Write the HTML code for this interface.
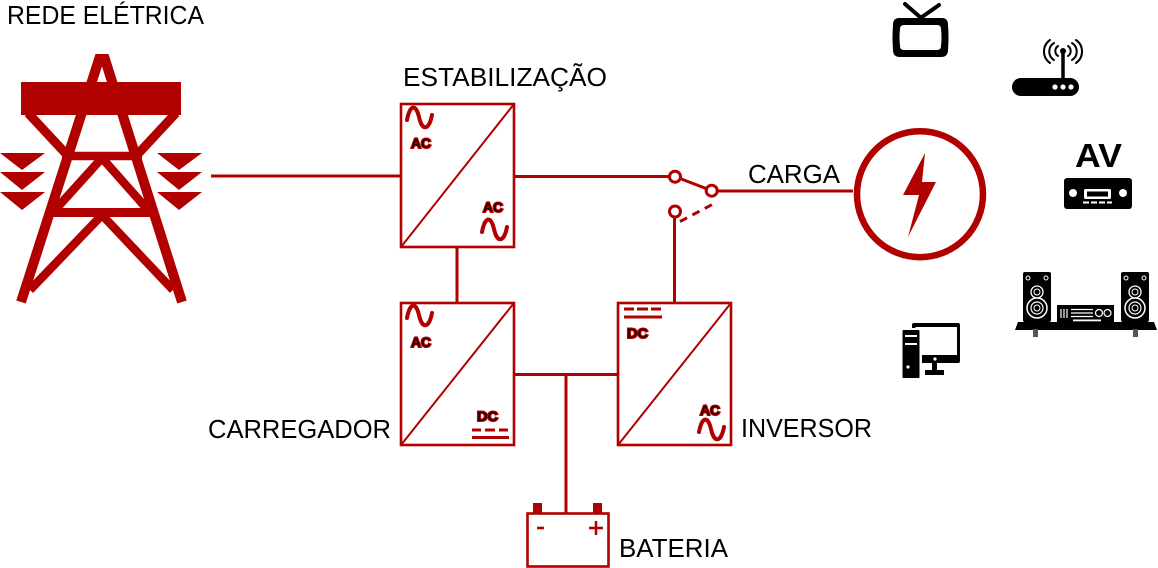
<!DOCTYPE html>
<html>
<head>
<meta charset="utf-8">
<style>
  html,body{margin:0;padding:0;background:#fff;}
  svg{display:block;}
  .lbl{font-family:"Liberation Sans",sans-serif;font-size:26px;fill:#000;}
  .sm{font-family:"Liberation Sans",sans-serif;font-size:14px;font-weight:bold;fill:#2a0000;stroke:#c00000;stroke-width:2;paint-order:stroke;}
</style>
</head>
<body>
<svg width="1158" height="568" viewBox="0 0 1158 568" xmlns="http://www.w3.org/2000/svg">
  <rect x="0" y="0" width="1158" height="568" fill="#fff"/>

  <!-- Labels -->
  <text class="lbl" x="7" y="24" font-size="25" textLength="197" lengthAdjust="spacingAndGlyphs">REDE ELÉTRICA</text>
  <text class="lbl" x="403" y="86" textLength="204" lengthAdjust="spacingAndGlyphs">ESTABILIZAÇÃO</text>
  <text class="lbl" x="748" y="183" textLength="92" lengthAdjust="spacingAndGlyphs">CARGA</text>
  <text class="lbl" x="208" y="438" textLength="183" lengthAdjust="spacingAndGlyphs">CARREGADOR</text>
  <text class="lbl" x="741" y="437" textLength="131" lengthAdjust="spacingAndGlyphs">INVERSOR</text>
  <text class="lbl" x="619" y="557" textLength="109" lengthAdjust="spacingAndGlyphs">BATERIA</text>

  <!-- Tower -->
  <g fill="#b00000" stroke="none">
    <rect x="21" y="82" width="160" height="33"/>
    <polygon points="0,153 45,153 22,170"/>
    <polygon points="0,172 45,172 22,190"/>
    <polygon points="0,192 45,192 22,210"/>
    <polygon points="157,153 202,153 179,170"/>
    <polygon points="157,172 202,172 179,190"/>
    <polygon points="157,192 202,192 179,210"/>
  </g>
  <g stroke="#b00000" stroke-width="10" fill="none" stroke-linecap="butt">
    <line x1="102" y1="50" x2="21" y2="302"/>
    <line x1="102" y1="50" x2="182" y2="302"/>
    <line x1="28" y1="113" x2="68" y2="156" stroke-width="9"/>
    <line x1="176" y1="113" x2="136" y2="156" stroke-width="9"/>
    <line x1="62" y1="156" x2="142" y2="156" stroke-width="8.5"/>
    <line x1="102" y1="158" x2="55" y2="210" stroke-width="8.5"/>
    <line x1="102" y1="158" x2="148" y2="210" stroke-width="8.5"/>
    <line x1="53" y1="212.5" x2="151" y2="212.5" stroke-width="9"/>
    <line x1="102" y1="215" x2="30" y2="290" stroke-width="8.5"/>
    <line x1="102" y1="215" x2="173" y2="290" stroke-width="8.5"/>
  </g>
  <rect x="0" y="0" width="1" height="1" fill="#fff"/>
  <polygon points="97,54 108,54 104,50 100,50" fill="#b00000"/>
  <rect x="0" y="40" width="200" height="14" fill="#fff"/>

  <!-- Connectors -->
  <g stroke="#b00000" stroke-width="3" fill="none">
    <line x1="211" y1="176" x2="401" y2="176"/>
    <line x1="514" y1="176.5" x2="669" y2="176.5"/>
    <line x1="457" y1="247" x2="457" y2="303"/>
    <line x1="514" y1="374.5" x2="618" y2="374.5"/>
    <line x1="566" y1="374.5" x2="566" y2="513"/>
    <line x1="674.5" y1="218" x2="674.5" y2="303"/>
    <line x1="718" y1="191" x2="853" y2="191"/>
    <!-- switch -->
    <circle cx="675" cy="176.7" r="5.5"/>
    <circle cx="711.7" cy="190.7" r="5.5"/>
    <line x1="680" y1="178.5" x2="706.5" y2="188.7"/>
    <circle cx="675" cy="211.5" r="5.5"/>
    <line x1="680" y1="221.5" x2="717" y2="202" stroke-dasharray="8,6"/>
  </g>

  <!-- Boxes -->
  <g stroke="#b00000" fill="none">
    <rect x="401" y="104" width="113" height="143" stroke-width="2.6"/>
    <line x1="401" y1="247" x2="514" y2="104" stroke-width="2"/>
    <rect x="401" y="303" width="113" height="142" stroke-width="2.6"/>
    <line x1="401" y1="445" x2="514" y2="303" stroke-width="2"/>
    <rect x="618" y="303" width="113" height="142" stroke-width="2.6"/>
    <line x1="618" y1="445" x2="731" y2="303" stroke-width="2"/>
  </g>

  <!-- Sine waves -->
  <g stroke="#b00000" stroke-width="4" fill="none" stroke-linecap="round">
    <path d="M407,120 C410,104 416,104 419,117 C422,131 429,131 432,115"/>
    <path d="M482,232 C485,216 491,216 494,229 C497,243 504,243 507,227"/>
    <path d="M407,318 C410,302 416,302 419,315 C422,329 429,329 432,313"/>
    <path d="M699,432 C702,416 708,416 711,429 C714,443 721,443 724,427"/>
  </g>

  <!-- DC lines -->
  <g stroke="#b00000" stroke-width="3" fill="none">
    <line x1="472" y1="430" x2="481" y2="430"/>
    <line x1="485" y1="430" x2="495" y2="430"/>
    <line x1="499" y1="430" x2="508" y2="430"/>
    <line x1="472" y1="437.5" x2="509" y2="437.5"/>
    <line x1="624" y1="309" x2="634" y2="309"/>
    <line x1="637" y1="309" x2="648" y2="309"/>
    <line x1="651" y1="309" x2="661" y2="309"/>
    <line x1="624" y1="317" x2="662" y2="317"/>
  </g>

  <!-- AC / DC small labels -->
  <text class="sm" x="411" y="148" textLength="20" lengthAdjust="spacingAndGlyphs">AC</text>
  <text class="sm" x="483" y="212" textLength="20" lengthAdjust="spacingAndGlyphs">AC</text>
  <text class="sm" x="411" y="347" textLength="20" lengthAdjust="spacingAndGlyphs">AC</text>
  <text class="sm" x="477" y="421" textLength="21" lengthAdjust="spacingAndGlyphs">DC</text>
  <text class="sm" x="627" y="338" textLength="21" lengthAdjust="spacingAndGlyphs">DC</text>
  <text class="sm" x="700" y="415" textLength="20" lengthAdjust="spacingAndGlyphs">AC</text>

  <!-- Battery -->
  <g fill="#b00000">
    <rect x="533" y="503" width="9" height="10"/>
    <rect x="593" y="503" width="9" height="10"/>
  </g>
  <g stroke="#b00000" fill="none">
    <rect x="527.5" y="513.5" width="81" height="53" stroke-width="2.6"/>
    <line x1="537" y1="528" x2="544" y2="528" stroke-width="2.6"/>
    <line x1="589" y1="528" x2="603" y2="528" stroke-width="2.6"/>
    <line x1="596" y1="521" x2="596" y2="535" stroke-width="2.6"/>
  </g>

  <!-- Load circle -->
  <circle cx="920" cy="194.2" r="63" stroke="#b00000" stroke-width="6.5" fill="none"/>
  <polygon points="925,153 903,195 919,195 908,237 936,182 922,182" fill="#b00000"/>

  <!-- TV icon -->
  <g stroke="#000" stroke-width="4" stroke-linecap="round">
    <line x1="905" y1="4" x2="920" y2="17"/>
    <line x1="939" y1="5" x2="922" y2="17"/>
  </g>
  <path d="M899,18 L942,18 Q948,18 948,25 Q949,37 948,50 Q948,57 941,57 L900,57 Q893,57 893,50 Q892,37 893,25 Q893,18 899,18 Z" fill="#000"/>
  <path d="M904,25 L937,25 Q941,25 941,29 Q942,37 941,46 Q941,50 937,50 L904,50 Q900,50 900,46 Q899,37 900,29 Q900,25 904,25 Z" fill="#fff"/>

  <!-- Router icon -->
  <rect x="1012" y="78" width="67" height="18" rx="9" fill="#000"/>
  <g fill="#fff">
    <circle cx="1055" cy="87" r="2.6"/>
    <circle cx="1063" cy="87" r="2.6"/>
    <circle cx="1071" cy="87" r="2.6"/>
  </g>
  <line x1="1063" y1="52" x2="1063" y2="79" stroke="#000" stroke-width="3.5"/>
  <circle cx="1063" cy="51" r="3" fill="#000"/>
  <g stroke="#000" stroke-width="2" fill="none" stroke-linecap="round">
    <path d="M1058,46 A6,6 0 0 0 1058,56"/>
    <path d="M1054,43 A10,10 0 0 0 1054,60"/>
    <path d="M1050,40 A14,14 0 0 0 1050,63"/>
    <path d="M1068,46 A6,6 0 0 1 1068,56"/>
    <path d="M1072,43 A10,10 0 0 1 1072,60"/>
    <path d="M1076,40 A14,14 0 0 1 1076,63"/>
  </g>

  <!-- AV icon -->
  <text x="1075" y="167" font-family="Liberation Sans, sans-serif" font-weight="bold" font-size="33" fill="#000" textLength="47" lengthAdjust="spacingAndGlyphs">AV</text>
  <rect x="1064" y="178" width="68" height="31" rx="3" fill="#000"/>
  <circle cx="1073" cy="193" r="4" fill="#fff"/>
  <circle cx="1123" cy="193" r="4" fill="#fff"/>
  <rect x="1084" y="189" width="27" height="10" rx="1.5" fill="#fff"/>
  <rect x="1087" y="191.5" width="21" height="5" fill="#000"/>
  <g fill="#fff">
    <rect x="1083" y="201.5" width="6" height="2"/>
    <rect x="1091" y="201.5" width="6" height="2"/>
    <rect x="1099" y="201.5" width="6" height="2"/>
    <rect x="1107" y="201.5" width="5" height="2"/>
  </g>

  <!-- Hi-fi stereo icon -->
  <polygon points="1018,322 1154,322 1157,330 1015,330" fill="#000"/>
  <rect x="1033" y="329" width="5" height="8" fill="#555"/>
  <rect x="1133" y="329" width="5" height="8" fill="#555"/>
  <rect x="1023" y="272" width="28" height="50" rx="2" fill="#000"/>
  <rect x="1121" y="272" width="28" height="50" rx="2" fill="#000"/>
  <g stroke="#fff" fill="none">
    <circle cx="1028" cy="278" r="2" stroke-width="1"/>
    <circle cx="1046" cy="278" r="2" stroke-width="1"/>
    <circle cx="1037" cy="292" r="6" stroke-width="1.3"/>
    <circle cx="1037" cy="292" r="3" stroke-width="1"/>
    <circle cx="1037" cy="308" r="10" stroke-width="1.5"/>
    <circle cx="1037" cy="308" r="6" stroke-width="1.2"/>
    <circle cx="1037" cy="308" r="3" stroke-width="1"/>
    <circle cx="1126" cy="278" r="2" stroke-width="1"/>
    <circle cx="1144" cy="278" r="2" stroke-width="1"/>
    <circle cx="1135" cy="292" r="6" stroke-width="1.3"/>
    <circle cx="1135" cy="292" r="3" stroke-width="1"/>
    <circle cx="1135" cy="308" r="10" stroke-width="1.5"/>
    <circle cx="1135" cy="308" r="6" stroke-width="1.2"/>
    <circle cx="1135" cy="308" r="3" stroke-width="1"/>
  </g>
  <rect x="1057" y="305" width="57" height="17" fill="#000"/>
  <g stroke="#fff" fill="none" stroke-width="1.2">
    <line x1="1061" y1="309" x2="1061" y2="318"/>
    <line x1="1064" y1="309" x2="1064" y2="318"/>
    <line x1="1067" y1="309" x2="1067" y2="318"/>
    <line x1="1071" y1="309.5" x2="1093" y2="309.5"/>
    <line x1="1071" y1="313" x2="1093" y2="313"/>
    <line x1="1071" y1="316.5" x2="1093" y2="316.5"/>
    <circle cx="1099" cy="313" r="3.5"/>
    <circle cx="1107.5" cy="313" r="3.5"/>
  </g>
  <rect x="1073" y="319.5" width="28" height="1.8" fill="#fff"/>

  <!-- PC icon -->
  <rect x="912" y="323" width="48" height="40" rx="2" fill="#000"/>
  <rect x="915.5" y="327" width="41.5" height="28" fill="#fff"/>
  <circle cx="935" cy="359" r="1.6" fill="#fff"/>
  <rect x="932" y="362" width="5" height="8" fill="#000"/>
  <rect x="925" y="370" width="19" height="5" fill="#000"/>
  <rect x="900" y="328" width="22" height="52" fill="#fff"/>
  <rect x="902.5" y="330" width="17" height="48" rx="1" fill="#000"/>
  <rect x="905" y="335" width="12" height="2" fill="#fff"/>
  <rect x="905" y="343" width="12" height="2" fill="#fff"/>
  <circle cx="908" cy="367" r="1.6" fill="#fff"/>
</svg>
</body>
</html>
